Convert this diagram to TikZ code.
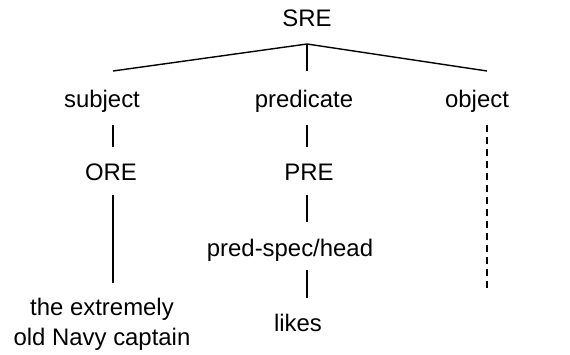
\documentclass[tikz,border=0pt]{standalone}
\usepackage{fontspec}
\setmainfont{Liberation Sans}
\begin{document}
\begin{tikzpicture}[x=1bp,y=-1bp,
  lbl/.style={anchor=base,inner sep=0pt,font=\fontsize{24}{30}\selectfont},
  edge/.style={line width=1.4bp},
  dedge/.style={line width=1.4bp,dash pattern=on 7bp off 5bp}]
\useasboundingbox (0,0) rectangle (570,354);
\node[lbl] (sre) at (307,26) {SRE};
\node[lbl] (subj) at (102,107) {subject};
\node[lbl] (pred) at (304,107) {predicate};
\node[lbl] (obj) at (477,107) {object};
\node[lbl] (ore) at (111,180) {ORE};
\node[lbl] (pre) at (309,180) {PRE};
\node[lbl] (psh) at (290,256) {pred-spec/head};
\node[lbl,align=center] (np) at (102,345) {the extremely\\old Navy captain};
\node[lbl] (likes) at (298,331) {likes};
% connector ends
\coordinate (apex) at (307,44);
\coordinate (s1) at (113,71);
\coordinate (p1) at (307,71);
\coordinate (o1) at (487,71);
\coordinate (s2a) at (113,125); \coordinate (s2b) at (113,147);
\coordinate (s3a) at (113,195); \coordinate (s3b) at (113,283);
\coordinate (p2a) at (307,125); \coordinate (p2b) at (307,147);
\coordinate (p3a) at (307,195); \coordinate (p3b) at (307,222);
\coordinate (p4a) at (307,270); \coordinate (p4b) at (307,298);
\coordinate (o2a) at (487,125); \coordinate (o2b) at (487,293);
\draw[edge] (s1) -- (apex) -- (o1);
\draw[edge] (apex) -- (p1);
\draw[edge] (s2a) -- (s2b);
\draw[edge] (s3a) -- (s3b);
\draw[edge] (p2a) -- (p2b);
\draw[edge] (p3a) -- (p3b);
\draw[edge] (p4a) -- (p4b);
\draw[dedge] (o2a) -- (o2b);
\end{tikzpicture}
\end{document}
